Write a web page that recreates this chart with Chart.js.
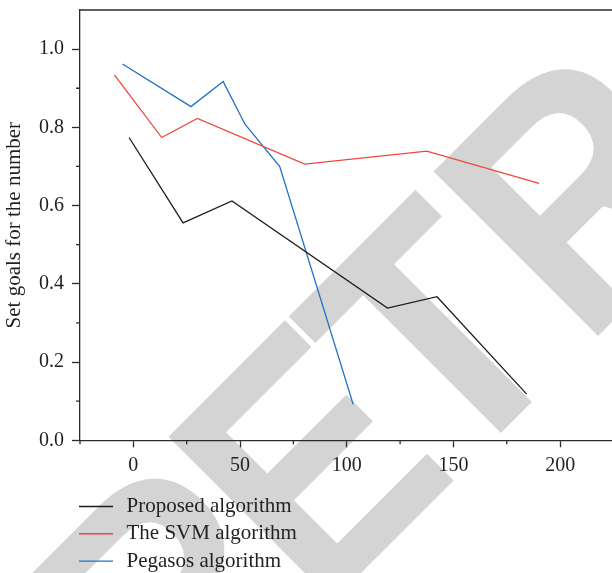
<!DOCTYPE html>
<html>
<head>
<meta charset="utf-8">
<script src="https://cdn.jsdelivr.net/npm/chart.js@4"></script>
<style>
  body { margin: 0; background: #fff; }
  canvas { display: block; }
</style>
</head>
<body>
<canvas id="chart" width="612" height="573"></canvas>
<script>
// values
const seriesNames = ['Proposed algorithm', 'The SVM algorithm', 'Pegasos algorithm'];
const proposedX = [-2.0, 23.3, 46.2, 119.1, 142.3, 184.3];
const proposedY = [0.774, 0.556, 0.612, 0.338, 0.367, 0.118];
const svmX = [-8.9, 13.3, 30.0, 80.3, 137.5, 190.1];
const svmY = [0.934, 0.774, 0.823, 0.706, 0.739, 0.657];
const pegasosX = [-5.1, 27.0, 42.1, 52.3, 68.6, 103.0];
const pegasosY = [0.962, 0.853, 0.917, 0.808, 0.700, 0.092];
const xTicks = [0, 50, 100, 150, 200];
const xMinorTicks = [-25, 25, 75, 125, 175];
const yTicks = [0, 0.2, 0.4, 0.6, 0.8, 1.0];
const yMinorTicks = [0.1, 0.3, 0.5, 0.7, 0.9];
const colors = ['#1c1c1c', '#f0463e', '#2272c3'];

const serif = "'Liberation Serif', 'DejaVu Serif', serif";
const axisColor = '#2b2b2b';

function points(xs, ys) {
    return xs.map((x, i) => ({ x: x, y: ys[i] }));
}

// big grey stamp behind the plot, letters placed along a 45 degree baseline
const stampLetters = ['R', 'E', 'T', 'R', 'A', 'C', 'T', 'E', 'D'];
const stampLeft = [-395, -191, -23, 184, 395, 600, 800, 990, 1180];
const stampPlugin = {
    id: 'stamp',
    beforeDraw(chart) {
        const ctx = chart.ctx;
        ctx.save();
        ctx.fillStyle = '#fff';
        ctx.fillRect(0, 0, chart.width, chart.height);
        ctx.font = "bold 338px 'Liberation Sans', Arial, sans-serif";
        ctx.fillStyle = '#d4d4d4';
        ctx.textBaseline = 'alphabetic';
        ctx.textAlign = 'left';
        ctx.translate(467, 467);
        ctx.rotate(-Math.PI / 4);
        const k = 0.9;
        ctx.scale(k, 1);
        stampLetters.forEach((ch, i) => {
            const m = ctx.measureText(ch);
            ctx.fillText(ch, stampLeft[i] / k + m.actualBoundingBoxLeft, 0);
        });
        ctx.restore();
    }
};

// top frame line, minor ticks and the stacked legend
const extrasPlugin = {
    id: 'extras',
    afterDraw(chart) {
        const ctx = chart.ctx;
        const area = chart.chartArea;
        const xs = chart.scales.x;
        const ys = chart.scales.y;
        ctx.save();
        ctx.strokeStyle = axisColor;
        ctx.lineWidth = 1.3;
        ctx.beginPath();
        ctx.moveTo(area.left, area.top);
        ctx.lineTo(area.right, area.top);
        xMinorTicks.forEach(v => {
            const px = xs.getPixelForValue(v);
            ctx.moveTo(px, area.bottom);
            ctx.lineTo(px, area.bottom + 4);
        });
        yMinorTicks.forEach(v => {
            const py = ys.getPixelForValue(v);
            ctx.moveTo(area.left, py);
            ctx.lineTo(area.left - 4, py);
        });
        ctx.stroke();

        ctx.font = '21px ' + serif;
        ctx.textBaseline = 'middle';
        ctx.fillStyle = '#231f20';
        chart.data.datasets.forEach((ds, i) => {
            const y = 506.5 + i * 27.3;
            ctx.strokeStyle = ds.borderColor;
            ctx.lineWidth = 1.4;
            ctx.beginPath();
            ctx.moveTo(79, y);
            ctx.lineTo(113, y);
            ctx.stroke();
            ctx.fillText(ds.label, 126.5, y);
        });
        ctx.restore();
    }
};

new Chart(document.getElementById('chart'), {
    type: 'line',
    data: {
        datasets: [
            { label: seriesNames[0], data: points(proposedX, proposedY), borderColor: colors[0] },
            { label: seriesNames[1], data: points(svmX, svmY), borderColor: colors[1] },
            { label: seriesNames[2], data: points(pegasosX, pegasosY), borderColor: colors[2] }
        ]
    },
    options: {
        responsive: false,
        animation: false,
        layout: { padding: { top: 10, left: 0, right: 0, bottom: 0 } },
        elements: {
            line: { borderWidth: 1.3, tension: 0, fill: false },
            point: { radius: 0 }
        },
        plugins: {
            legend: { display: false },
            tooltip: { enabled: false }
        },
        scales: {
            x: {
                type: 'linear',
                min: -25,
                max: 224.3,
                afterBuildTicks(scale) {
                    scale.ticks = xTicks.map(v => ({ value: v }));
                },
                afterFit(scale) {
                    scale.height = 132.7;
                    scale.paddingLeft = 0;
                    scale.paddingRight = 0;
                },
                grid: { drawOnChartArea: false, tickLength: 7, tickColor: axisColor, tickWidth: 1.3 },
                border: { color: axisColor, width: 1.3 },
                ticks: {
                    font: { family: serif, size: 20 },
                    color: '#231f20',
                    padding: 6,
                    maxRotation: 0,
                    callback: v => String(v)
                }
            },
            y: {
                type: 'linear',
                min: 0,
                max: 1.1,
                afterBuildTicks(scale) {
                    scale.ticks = yTicks.map(v => ({ value: v }));
                },
                afterFit(scale) {
                    scale.width = 80;
                    scale.paddingTop = 0;
                    scale.paddingBottom = 0;
                },
                grid: { drawOnChartArea: false, tickLength: 8, tickColor: axisColor, tickWidth: 1.3 },
                border: { color: axisColor, width: 1.3 },
                ticks: {
                    font: { family: serif, size: 20 },
                    color: '#231f20',
                    padding: 8,
                    callback: v => v.toFixed(1)
                },
                title: {
                    display: true,
                    text: 'Set goals for the number',
                    font: { family: serif, size: 21 },
                    color: '#231f20',
                    padding: { top: 2, bottom: 0 }
                }
            }
        }
    },
    plugins: [stampPlugin, extrasPlugin]
});
</script>
</body>
</html>
